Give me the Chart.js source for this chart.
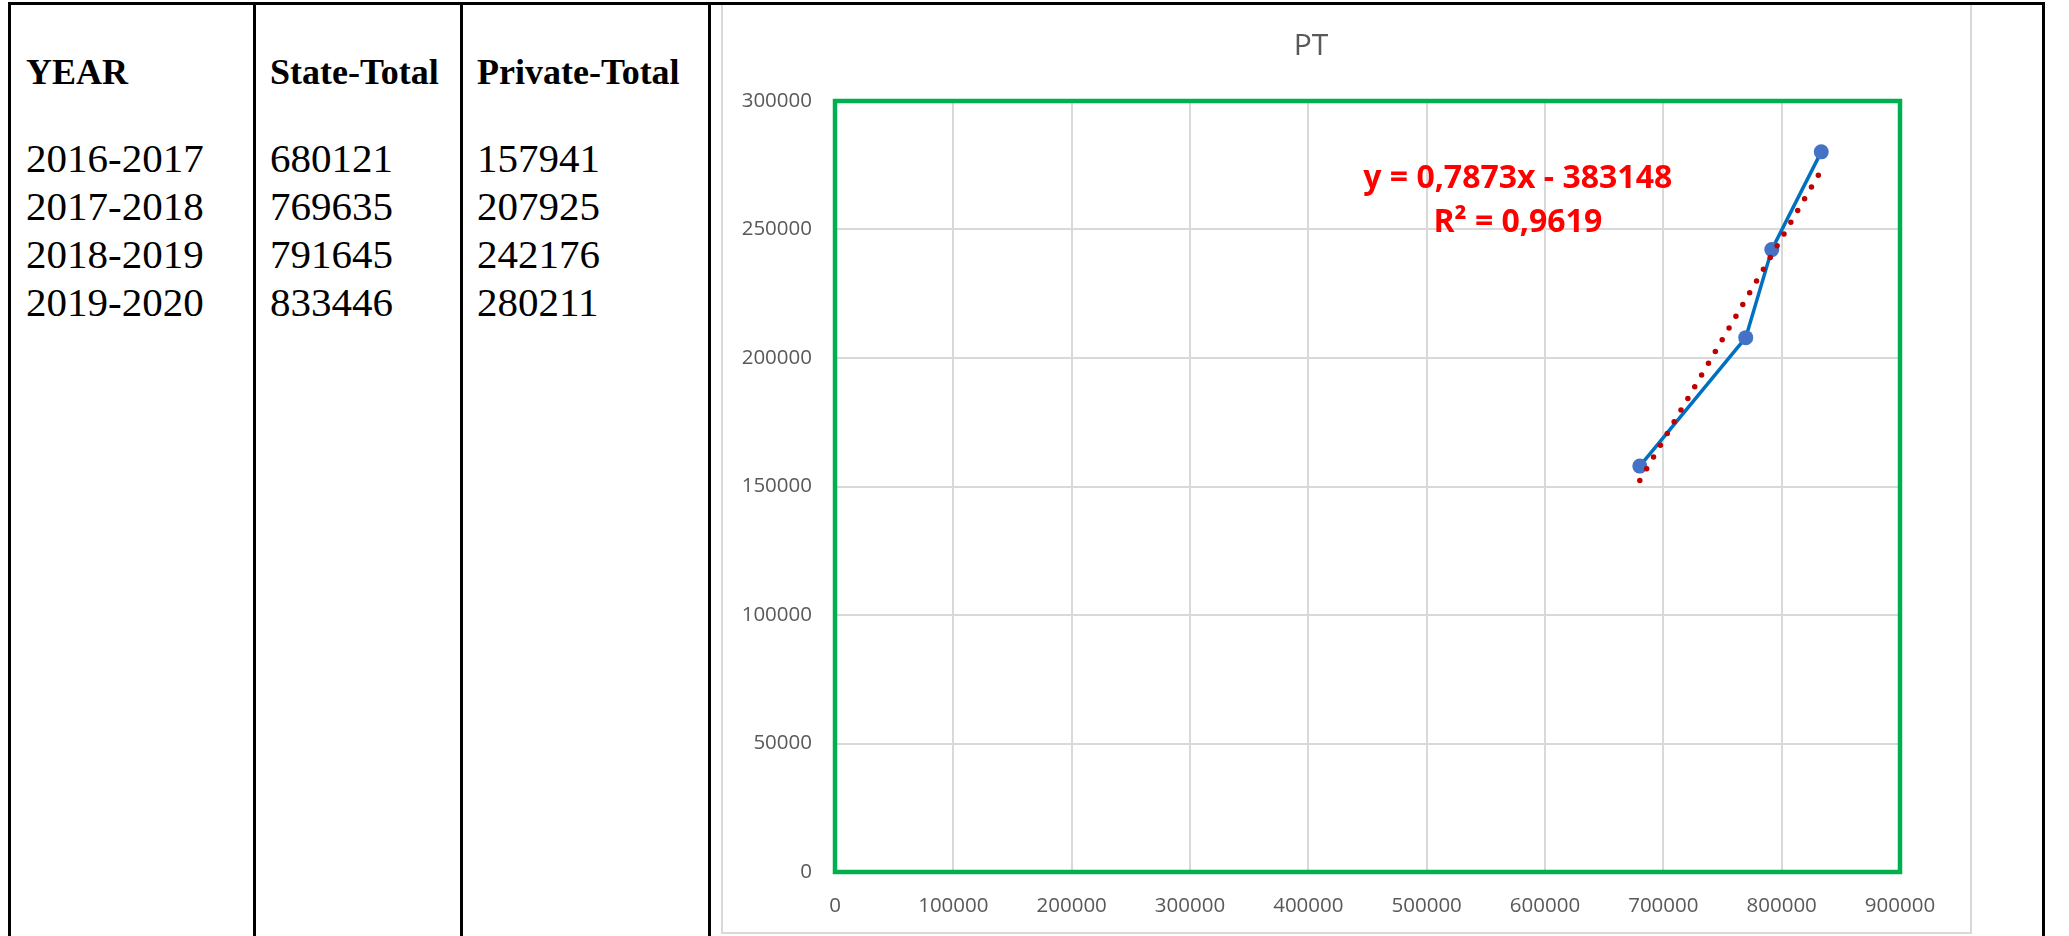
<!DOCTYPE html>
<html>
<head>
<meta charset="utf-8">
<script src="https://cdn.jsdelivr.net/npm/chart.js@4.4.0/dist/chart.umd.min.js"></script>
<style>
  html, body { margin: 0; padding: 0; background: #fff; }
  body { width: 2069px; height: 936px; position: relative; overflow: hidden; }
  .line { position: absolute; background: #000; }
  .cell { position: absolute; font-family: "Liberation Serif", "Times New Roman", serif; color: #000; white-space: nowrap; }
  .head { font-weight: bold; font-size: 36px; line-height: 36px; top: 54px; }
  .rows { font-size: 41px; line-height: 48px; top: 134px; }
  #chartBox { position: absolute; left: 722px; top: 4px; width: 1248px; height: 928px; }
  #frame { position: absolute; left: 721px; top: 3px; width: 1251px; height: 931px; border: 2px solid #d9d9d9; box-sizing: border-box; pointer-events: none; }
</style>
</head>
<body>
<div id="frame"></div>
<div id="chartBox"><canvas id="myChartPT"></canvas></div>
<script>
// donnees du tableau
const years = ['2016-2017', '2017-2018', '2018-2019', '2019-2020'];
const stateTotal = [680121, 769635, 791645, 833446];
const privateTotal = [157941, 207925, 242176, 280211];
const headers = ['YEAR', 'State-Total', 'Private-Total'];

const trendX = [680121, 833446];
const trendY = [152311, 273024];
const eqLines = ['y = 0,7873x - 383148', 'R\u00b2 = 0,9619'];

// axes
const xMax = 900000, xStep = 100000;
const yMax = 300000, yStep = 50000;

//#################################################### tableau

// bordures noires
let borders = [
  [8, 2, 2037, 3],
  [8, 2, 3, 934],
  [253, 2, 3, 934],
  [460, 2, 3, 934],
  [708, 2, 3, 934],
  [2042, 2, 3, 934]
];
borders.forEach(b => {
  let d = document.createElement('div');
  d.className = 'line';
  d.style.left = b[0] + 'px'; d.style.top = b[1] + 'px';
  d.style.width = b[2] + 'px'; d.style.height = b[3] + 'px';
  document.body.appendChild(d);
});

let colLeft = [26, 270, 477];
let cols = [years, stateTotal, privateTotal];
for (let c = 0; c < 3; c++) {
  let h = document.createElement('div');
  h.className = 'cell head';
  h.style.left = colLeft[c] + 'px';
  h.textContent = headers[c];
  document.body.appendChild(h);

  let r = document.createElement('div');
  r.className = 'cell rows';
  r.style.left = colLeft[c] + 'px';
  r.innerHTML = cols[c].map(v => String(v)).join('<br>');
  document.body.appendChild(r);
}

//#################################################### graph PT

const trendPoints = trendX.map((x, i) => ({x: x, y: trendY[i]}));
const ptPoints = stateTotal.map((x, i) => ({x: x, y: privateTotal[i]}));

// cadre vert de la zone de tracé + equation
const plotDeco = {
  id: 'plotDeco',
  beforeDatasetsDraw(chart) {
    const {ctx, chartArea: a} = chart;
    ctx.save();
    ctx.strokeStyle = '#00B050';
    ctx.lineWidth = 4.5;
    ctx.strokeRect(a.left, a.top, a.right - a.left, a.bottom - a.top);
    ctx.restore();
  },
  afterDatasetsDraw(chart) {
    const {ctx, scales} = chart;
    const px = scales.x.getPixelForValue(577000);
    const py = scales.y.getPixelForValue(266000);
    ctx.save();
    ctx.fillStyle = '#FF0000';
    ctx.font = 'bold 32px "Open Sans"';
    ctx.textAlign = 'center';
    ctx.textBaseline = 'alphabetic';
    ctx.fillText(eqLines[0], px, py);
    ctx.fillText(eqLines[1], px, py + 44);
    ctx.restore();
  }
};

const tickFont = {family: 'Open Sans', size: 20.5};

const config = {
  type: 'scatter',
  data: {
    datasets: [
      {
        label: 'Linéaire (PT)',
        data: trendPoints,
        showLine: true,
        pointRadius: 0,
        borderColor: '#C00000',
        borderWidth: 5.5,
        borderDash: [0, 13.6],
        borderCapStyle: 'round'
      },
      {
        label: 'PT',
        data: ptPoints,
        showLine: true,
        borderColor: '#0070C0',
        borderWidth: 3.5,
        pointRadius: 7.5,
        pointBorderWidth: 0,
        pointBackgroundColor: '#4472C4',
        pointBorderColor: '#4472C4'
      }
    ]
  },
  options: {
    responsive: true,
    maintainAspectRatio: false,
    animation: false,
    layout: { padding: {left: 0, right: 70, top: 0, bottom: 0} },
    plugins: {
      legend: { display: false },
      tooltip: { enabled: false },
      title: {
        display: true,
        text: 'PT',
        color: '#595959',
        font: {family: 'Open Sans', size: 30, weight: 'normal', lineHeight: 1.2},
        padding: {top: 24, bottom: 37}
      }
    },
    scales: {
      x: {
        type: 'linear',
        min: 0, max: xMax,
        ticks: { stepSize: xStep, color: '#595959', font: tickFont, padding: 22, maxRotation: 0,
                 callback: v => String(v) },
        grid: { color: '#d9d9d9', lineWidth: 2, drawTicks: false },
        border: { display: false },
        afterFit: s => { s.height = 60; }
      },
      y: {
        min: 0, max: yMax,
        ticks: { stepSize: yStep, color: '#595959', font: tickFont, padding: 23,
                 callback: v => String(v) },
        grid: { color: '#d9d9d9', lineWidth: 2, drawTicks: false },
        border: { display: false },
        afterFit: s => { s.width = 113; }
      }
    }
  },
  plugins: [plotDeco]
};

const myChartPT = new Chart(document.getElementById('myChartPT'), config);
</script>
</body>
</html>
